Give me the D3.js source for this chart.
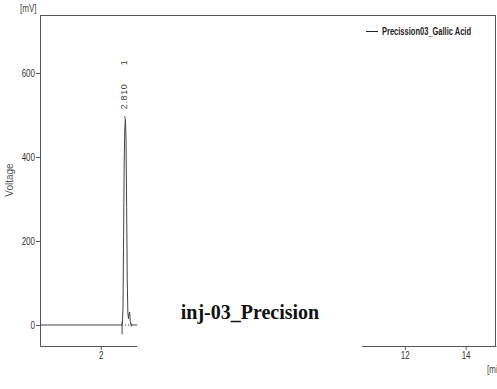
<!DOCTYPE html>
<html>
<head>
<meta charset="utf-8">
<script src="https://cdn.jsdelivr.net/npm/d3@7"></script>
<style>
  html, body { margin: 0; padding: 0; background: #fff; }
  svg { display: block; }
  .ax text { font-family: "Liberation Sans", Arial, sans-serif; font-size: 10px; fill: #333; }
  .ax path, .ax line { stroke: #555; }
</style>
</head>
<body>
<svg id="chart" width="497" height="389"></svg>
<script>
// Chromatogram trace: retention time (min) and detector voltage (mV)
const timeMin = [0, 2.68, 2.71, 2.73, 2.75, 2.77, 2.79, 2.81, 2.83, 2.85, 2.87, 2.89, 2.91, 2.93, 2.95, 2.97, 3.00, 3.20];
const voltage = [0, 0, 3, 40, 210, 390, 470, 490, 440, 280, 110, 30, 15, 28, 31, 8, 0, 0];

// Peak table
const peakTimes = [2.810];
const peakIds = ["1"];
const peakStart = 2.70, peakEnd = 3.00;

// Axis ticks
const yTicks = [0, 200, 400, 600];
const xTicks = [2, 4, 6, 8, 10, 12, 14];

const seriesName = "Precission03_Gallic Acid";
const title = "inj-03_Precision";

const svg = d3.select("#chart");
const x = d3.scaleLinear().domain([0, 15]).range([40, 496]);
const y = d3.scaleLinear().domain([-50, 738]).range([346, 15]);

// squeeze Liberation Sans into a condensed look
function narrow(sel, f) {
  sel.each(function () {
    const w = this.getComputedTextLength();
    d3.select(this).attr("textLength", w * f).attr("lengthAdjust", "spacingAndGlyphs");
  });
}

// frame: top and right borders
svg.append("line").attr("x1", x(0)).attr("x2", x(15)).attr("y1", y(738) + 0.5).attr("y2", y(738) + 0.5)
  .attr("stroke", "#555");
svg.append("line").attr("x1", x(15) - 0.5).attr("x2", x(15) - 0.5).attr("y1", y(738)).attr("y2", y(-50))
  .attr("stroke", "#555");

// axes
const yAxis = svg.append("g").attr("class", "ax").attr("transform", `translate(${x(0)},0)`)
  .call(d3.axisLeft(y).tickValues(yTicks).tickSize(4).tickSizeOuter(0).tickPadding(1));
const xAxis = svg.append("g").attr("class", "ax").attr("transform", `translate(0,${y(-50)})`)
  .call(d3.axisBottom(x).tickValues(xTicks).tickSize(4).tickSizeOuter(0).tickPadding(2));
narrow(yAxis.selectAll("text"), 0.8);
narrow(xAxis.selectAll("text"), 0.8);

// trace
const pts = timeMin.map((t, i) => [t, voltage[i]]);
svg.append("path").datum(pts)
  .attr("fill", "none").attr("stroke", "#444").attr("stroke-width", 1)
  .attr("d", d3.line().x(d => x(d[0])).y(d => y(d[1])));

// integration baseline and start/end markers
svg.append("line").attr("x1", x(peakStart)).attr("x2", x(peakEnd)).attr("y1", y(0)).attr("y2", y(0))
  .attr("stroke", "#333").attr("stroke-dasharray", "1,2");
svg.append("line").attr("x1", x(peakStart)).attr("x2", x(peakStart)).attr("y1", y(8)).attr("y2", y(-22))
  .attr("stroke", "#444");
svg.append("line").attr("x1", x(peakEnd)).attr("x2", x(peakEnd)).attr("y1", y(4)).attr("y2", y(-4))
  .attr("stroke", "#444");

// peak labels: retention time and peak number, written upwards
peakTimes.forEach((t, i) => {
  const px = x(t) - 1;
  const py = y(490);
  svg.append("line").attr("x1", px + 0.5).attr("x2", px + 0.5).attr("y1", py).attr("y2", py - 3)
    .attr("stroke", "#555");
  const lab = { "font-family": "Liberation Sans, Arial, sans-serif", "font-size": 9, "fill": "#444" };
  const t1 = svg.append("text")
    .attr("transform", `translate(${px + 3},${py - 10}) rotate(-90)`)
    .attr("letter-spacing", "0.6px")
    .text(t.toFixed(3));
  const t2 = svg.append("text")
    .attr("transform", `translate(${px + 3},${py - 54}) rotate(-90)`)
    .text(peakIds[i]);
  [t1, t2].forEach(s => Object.entries(lab).forEach(([k, v]) => s.attr(k, v)));
});

// axis titles
const mv = svg.append("text").attr("x", 20).attr("y", 12)
  .attr("font-family", "Liberation Sans, Arial, sans-serif").attr("font-size", 10).attr("fill", "#444")
  .text("[mV]");
narrow(mv, 0.8);
svg.append("text").attr("transform", "translate(13,180) rotate(-90)").attr("text-anchor", "middle")
  .attr("font-family", "Liberation Sans, Arial, sans-serif").attr("font-size", 10).attr("fill", "#555")
  .text("Voltage");
svg.append("text").attr("x", 268).attr("y", 379).attr("text-anchor", "middle")
  .attr("font-family", "Liberation Sans, Arial, sans-serif").attr("font-size", 9).attr("fill", "#444")
  .text("Time");
const mn = svg.append("text").attr("x", 487).attr("y", 373)
  .attr("font-family", "Liberation Sans, Arial, sans-serif").attr("font-size", 10).attr("fill", "#444")
  .text("[min]");
narrow(mn, 0.8);

// legend
svg.append("line").attr("x1", 366).attr("x2", 378).attr("y1", 31.5).attr("y2", 31.5).attr("stroke", "#222");
svg.append("text").attr("x", 382).attr("y", 35)
  .attr("font-family", "Liberation Sans, Arial, sans-serif").attr("font-size", 10)
  .attr("font-weight", "bold").attr("fill", "#222")
  .attr("textLength", 89).attr("lengthAdjust", "spacingAndGlyphs")
  .text(seriesName);

// caption panel over the lower middle of the plot
svg.append("rect").attr("x", 137).attr("y", 290).attr("width", 225).attr("height", 99).attr("fill", "#fff");
svg.append("text").attr("x", 250).attr("y", 319).attr("text-anchor", "middle")
  .attr("font-family", "Liberation Serif, Times New Roman, serif").attr("font-size", 20)
  .attr("font-weight", "bold").attr("fill", "#111")
  .text(title);
</script>
</body>
</html>
